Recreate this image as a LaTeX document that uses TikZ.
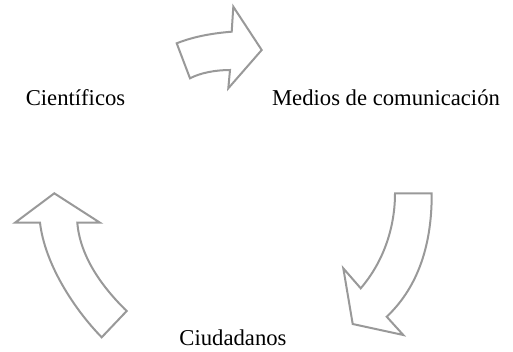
\documentclass[tikz,border=0pt]{standalone}
\usepackage{fontspec}
\setmainfont{Liberation Serif}
\usepackage{tikz}
\usetikzlibrary{positioning}

\tikzset{
  bigarrow/.style={draw=black!40, line width=1.5pt, fill=white, line join=miter},
  label/.style={font=\fontsize{17}{20}\selectfont, inner sep=0pt, anchor=base}
}

\begin{document}
\begin{tikzpicture}[x=0.75pt, y=-0.75pt]
  \useasboundingbox (0,0) rectangle (513,351);

  \node (Cient) [label] at (75.5,105) {Científicos};
  \node (Medios) [label] at (386,105) {Medios de comunicación};
  \node (Ciud) [label] at (233,345) {Ciudadanos};

  % top arrow
  \path [bigarrow] (176.7,43.3) .. controls (195,36) and (215,33) .. (231.7,31.7)
    -- (233.3,6.7) -- (261.7,50) -- (228.3,88.3) -- (230,70)
    .. controls (215,70) and (200,73) .. (190,78.3) -- cycle;

  % right arrow
  \path [bigarrow] (395,193.3) -- (431.7,193.3)
    .. controls (432,250) and (415,290) .. (386.7,316.7)
    -- (403.3,335) -- (352.7,324) -- (343.3,268.3) -- (360.7,288.3)
    .. controls (385,260) and (395,225) .. cycle;

  % left arrow
  \path [bigarrow] (54.3,193.3) -- (100,222.7) -- (77.3,222.7)
    .. controls (80,255) and (100,285) .. (126.7,311)
    -- (101.7,337.3)
    .. controls (75,310) and (45,265) .. (40,222.7)
    -- (15,222.7) -- cycle;
\end{tikzpicture}
\end{document}
